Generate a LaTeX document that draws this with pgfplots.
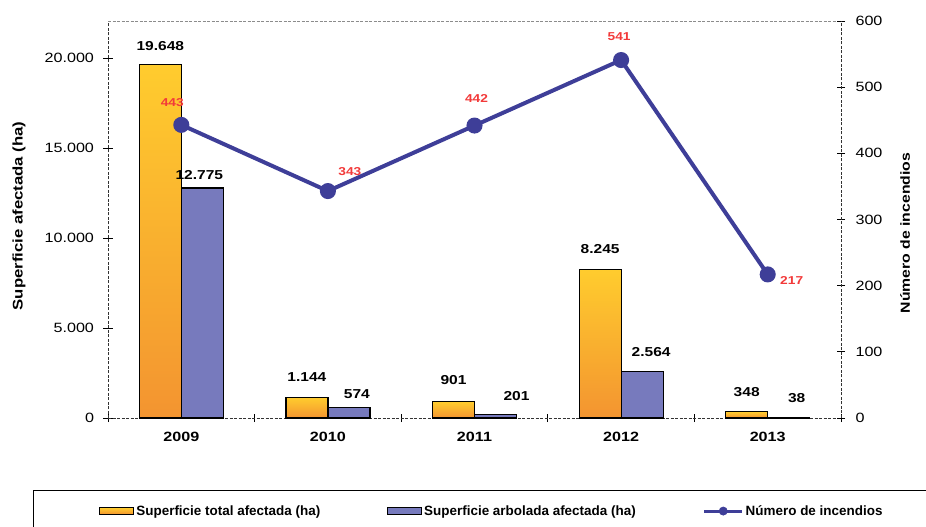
\documentclass[border=0pt]{standalone}
\usepackage{fontspec}
\setmainfont{Liberation Sans}
\newfontfamily\sx[FakeStretch=1.2]{Liberation Sans}
\usepackage{pgfplots}
\usepackage{pgfplotstable}
\pgfplotsset{compat=1.18}
\definecolor{orT}{HTML}{FFCC2E}
\definecolor{orB}{HTML}{F39430}
\definecolor{bbar}{HTML}{777ABD}
\definecolor{lineb}{HTML}{3E3E98}
\definecolor{redl}{HTML}{F23A3A}

% total area (ha): x, value, label, label shift dx, dy (bp)
\pgfplotstableread{
x y lab dx dy
0 19648 19.648 -21 18
1 1144 1.144 -21 20
2 901 901 -21 22
3 8245 8.245 -21 21
4 348 348 -21 20
}\totaltab
% wooded area (ha)
\pgfplotstableread{
x y lab dx dy
0 12775 12.775 18 13
1 574 574 29 14
2 201 201 42 18
3 2564 2.564 30 20
4 38 38 29 19
}\arboltab
% number of fires
\pgfplotstableread{
x y lab dx dy
0 443 443 -9 22
1 343 343 22 19
2 442 442 2 27
3 541 541 -2 23
4 217 217 24 -6
}\firetab

\pgfplotsset{
  barleg/.style={legend image code/.code={\draw[##1, line width=1bp] (0bp,-3.2bp) rectangle (34bp,3.2bp);}},
  orbar/.style={ybar, bar width=42bp, bar shift=-21bp, draw=black, line width=1.2bp, top color=orT, bottom color=orB},
  blbar/.style={ybar, bar width=42bp, bar shift=21bp, draw=black, line width=1.2bp, fill=bbar},
  lbl/.style={draw=none, nodes near coords, point meta=explicit symbolic,
    visualization depends on={\thisrow{dx}\as\dx},
    visualization depends on={\thisrow{dy}\as\dy},
    nodes near coords style={anchor=center, xshift=\dx*1bp, yshift=\dy*1bp}},
}

\begin{document}
\begin{tikzpicture}
\path[use as bounding box] (0,0) rectangle (926bp,527bp);
\clip (0,0) rectangle (926bp,527bp);
\begin{axis}[
  at={(108bp,109bp)}, anchor=south west, scale only axis,
  width=733bp, height=397bp,
  xmin=-0.5, xmax=4.5, ymin=0, ymax=22055,
  axis x line*=bottom, axis y line*=left,
  axis line style={-, black!80, dash pattern=on 3bp off 1.5bp, line width=0.8bp},
  xtick={0,1,2,3,4}, xticklabels={2009,2010,2011,2012,2013},
  major x tick style={draw=none},
  minor xtick={-0.5,0.5,1.5,2.5,3.5,4.5},
  ytick={0,5000,10000,15000,20000},
  scaled y ticks=false,
  tick align=center, major tick length=9bp, minor tick length=8bp,
  every tick/.style={black, line width=0.8bp, solid},
  x tick label style={font=\sx\bfseries\fontsize{13.5}{14}\selectfont, yshift=-6bp},
  y tick label style={font=\sx\fontsize{13.5}{14}\selectfont, xshift=-6bp},
  /pgf/number format/1000 sep={.},
  /pgf/number format/assume math mode=true,
  ylabel={Superficie afectada (ha)},
  ylabel style={font=\sx\bfseries\fontsize{14}{16}\selectfont, at={(axis description cs:-0.1214,0.509)}, anchor=center},
  legend style={at={(axis description cs:-0.10232,-0.18136)}, anchor=north west,
    draw=black, line width=0.8bp, legend columns=3,
    font=\bfseries\fontsize{13.5}{14}\selectfont,
    inner xsep=66bp, inner ysep=13bp,
    /tikz/every even column/.append style={column sep=65bp}},
]
\pgfplotsinvokeforeach{0,...,4}{
  \addplot[orbar, forget plot, restrict x to domain=#1:#1] table[x=x, y=y]{\totaltab};
  \addplot[blbar, forget plot, restrict x to domain=#1:#1] table[x=x, y=y]{\arboltab};
}
\addlegendimage{orbar, barleg}
\addlegendentry{Superficie total afectada (ha)}
\addlegendimage{blbar, barleg}
\addlegendentry{Superficie arbolada afectada (ha)}
\addlegendimage{legend image code/.code={\draw[lineb, line width=3bp] (0bp,0bp) -- (38bp,0bp); \fill[lineb] (19bp,0bp) circle (4bp);}}
\addlegendentry{Número de incendios}
\addplot[lbl, forget plot, nodes near coords style={text=black,
    font=\sx\bfseries\fontsize{13}{14}\selectfont}]
  table[x=x, y=y, meta=lab]{\totaltab};
\addplot[lbl, forget plot, nodes near coords style={text=black,
    font=\sx\bfseries\fontsize{13}{14}\selectfont}]
  table[x=x, y=y, meta=lab]{\arboltab};
\draw[black!45, dash pattern=on 3bp off 1.5bp, line width=0.8bp] (rel axis cs:0,1) -- (rel axis cs:1,1);
\end{axis}
\begin{axis}[
  at={(108bp,109bp)}, anchor=south west, scale only axis,
  width=733bp, height=397bp,
  xmin=-0.5, xmax=4.5, ymin=0, ymax=600,
  axis x line=none, axis y line*=right,
  axis line style={-, black!80, dash pattern=on 3bp off 1.5bp, line width=0.8bp},
  ytick={0,100,...,600},
  tick align=center, major tick length=8bp,
  every tick/.style={black, line width=0.8bp, solid},
  y tick label style={font=\sx\fontsize{13.5}{14}\selectfont, xshift=7bp},
  /pgf/number format/assume math mode=true,
  ylabel={Número de incendios},
  ylabel style={font=\sx\bfseries\fontsize{13.2}{15}\selectfont, at={(axis description cs:1.0873,0.466)}, anchor=center, rotate=0},
]
\addplot[lineb, line width=4bp, mark=*, mark size=6bp, mark options={fill=lineb, draw=none}] table[x=x, y=y]{\firetab};
\addplot[lbl, nodes near coords style={text=redl,
    font=\sx\bfseries\fontsize{11.5}{12}\selectfont}]
  table[x=x, y=y, meta=lab]{\firetab};
\end{axis}
\end{tikzpicture}
\end{document}
